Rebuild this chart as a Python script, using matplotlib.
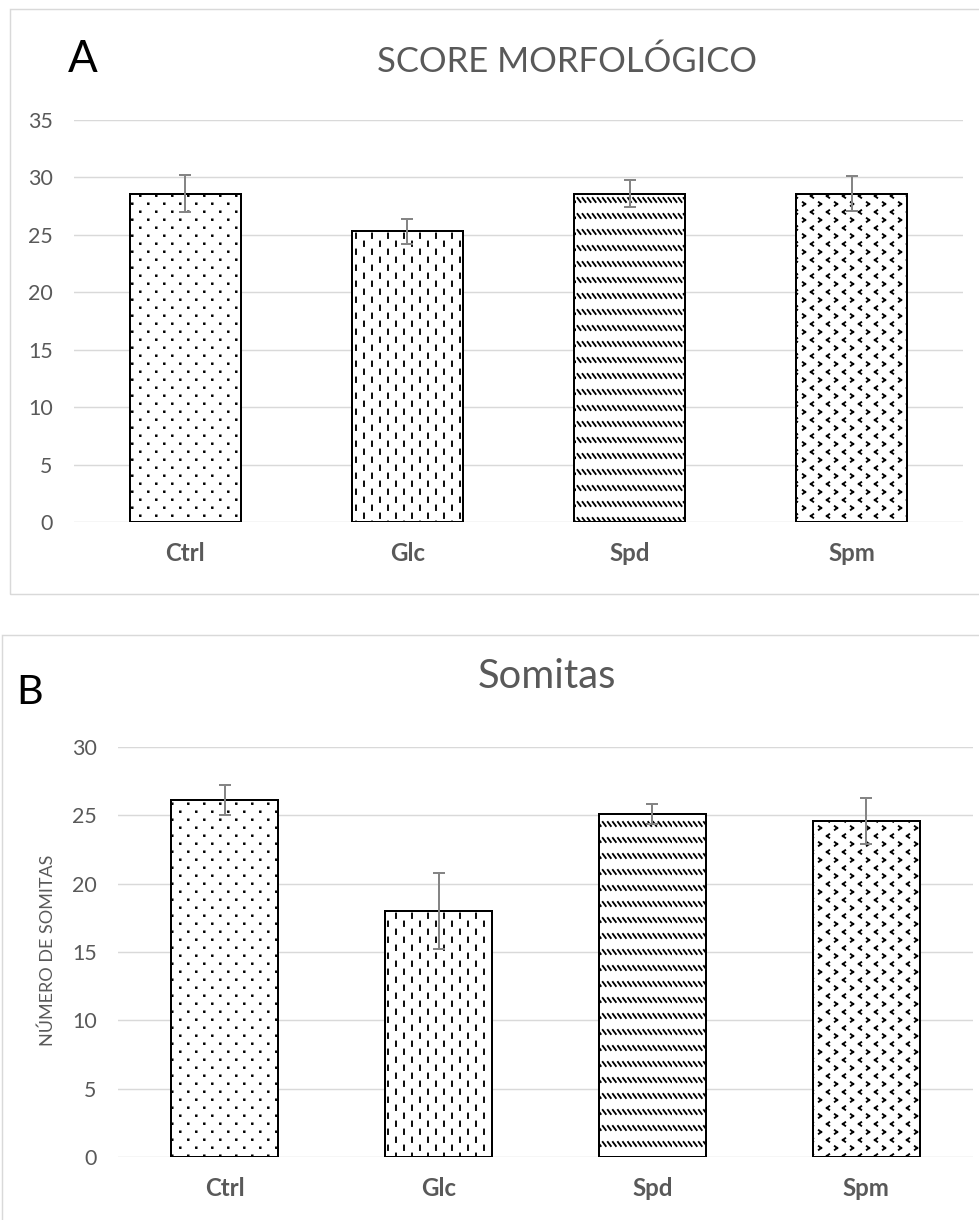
"""Score morfológico (A) y número de somitas (B) por tratamiento.

Réplica de dos gráficos de barras tipo Excel con tramas de relleno
(puntos, guiones verticales, guiones diagonales y chevrones).
"""
import numpy as np
import matplotlib
matplotlib.use('Agg')
import matplotlib.pyplot as plt
import matplotlib.hatch as mhatch
from matplotlib.path import Path
from matplotlib.patches import Rectangle

# ---------------- datos ----------------
CATEGORIAS = ['Ctrl', 'Glc', 'Spd', 'Spm']

SCORE_MEDIA = [28.6, 25.3, 28.6, 28.6]
SCORE_ERR = [1.6, 1.1, 1.2, 1.5]

SOMITAS_MEDIA = [26.1, 18.0, 25.1, 24.6]
SOMITAS_ERR = [1.1, 2.8, 0.75, 1.7]

TICKS_A = [0, 5, 10, 15, 20, 25, 30, 35]
TICKS_B = [0, 5, 10, 15, 20, 25, 30]

TRAMAS = ['.', '|', '\\', 'o']   # una trama por categoría

# ---------------- estilo ----------------
W, H, DPI = 979, 1220, 96
GRIS_TXT = '#595959'
GRIS_LIN = '#d9d9d9'
GRIS_ERR = '#858585'

plt.rcParams.update({
    'font.family': ['Lato', 'DejaVu Sans'],
    'hatch.linewidth': 1.4,
    'axes.unicode_minus': False,
})


# --- tramas tipo Excel: sustituyen a las de matplotlib para estas cadenas ---
# coordenadas en píxeles dentro de la baldosa de 96 px (y hacia arriba)
def _trama_puntos():
    segs = []
    for r in range(12):
        y = 4 + 8 * r
        for c in range(6):
            x = 4 + 16 * c + (8 if r % 2 else 0)
            segs.append([(x, y), (x + .6, y), (x + .6, y + .6), (x, y + .6)])
    return segs, True


def _trama_guiones_v():
    segs = []
    for k in range(12):
        x = 4 + 8 * k
        for j in range(6):
            y0 = 2 + 16 * j + (8 if k % 2 else 0)
            segs.append([(x, y0), (x, y0 + 4.5)])
    return segs, False


def _trama_guiones_diag():
    segs = []
    for j in range(6):
        yc = 8 + 16 * j
        for i in range(19):
            x = 1.5 + i * 96 / 19
            segs.append([(x, yc + 2), (x + 3, yc - 2)])
    return segs, False


def _trama_chevron():
    # cada brazo como segmento suelto para que no se rellene
    segs = []
    for r in range(12):
        y = 4 + 8 * r
        for c in range(6):
            x = 4 + 16 * c + (8 if r % 2 else 0)
            d = 1 if r % 2 == 0 else -1
            segs.append([(x - 1.2 * d, y + 1.8), (x + 1.2 * d, y)])
            segs.append([(x + 1.2 * d, y), (x - 1.2 * d, y - 1.8)])
    return segs, False


def _a_path(segs, cerrado):
    verts, codes = [], []
    for s in segs:
        for n, p in enumerate(s):
            verts.append((p[0] / 96, p[1] / 96))
            codes.append(Path.MOVETO if n == 0 else Path.LINETO)
        if cerrado:
            verts.append(s[0])
            codes.append(Path.CLOSEPOLY)
    return Path(np.array(verts, float), codes)


_CUSTOM = {
    '.': _a_path(*_trama_puntos()),
    '|': _a_path(*_trama_guiones_v()),
    '\\': _a_path(*_trama_guiones_diag()),
    'o': _a_path(*_trama_chevron()),
}
_orig_get_path = mhatch.get_path


def _get_path(hatchpattern, density=6):
    if hatchpattern in _CUSTOM:
        return _CUSTOM[hatchpattern]
    return _orig_get_path(hatchpattern, density)


mhatch.get_path = _get_path


def fx(px):
    return px / W


def fy(py):
    return 1 - py / H


def caja(x0, y0, x1, y1):
    """rectángulo en píxeles de la figura (y hacia abajo)"""
    return [fx(x0), fy(y1), fx(x1) - fx(x0), fy(y0) - fy(y1)]


fig = plt.figure(figsize=(W / DPI, H / DPI), dpi=DPI)

# marcos de los gráficos
for x0, y0, x1, y1 in [(10, 9, 1100, 594), (2, 635, 1100, 1400)]:
    fig.add_artist(Rectangle((fx(x0), fy(y1)), fx(x1) - fx(x0),
                             fy(y0) - fy(y1), transform=fig.transFigure,
                             facecolor='none', edgecolor=GRIS_LIN, lw=1.1))

axA = fig.add_axes(caja(74, 120, 963, 522))
axB = fig.add_axes(caja(118, 747, 973, 1157))


def barras(ax, medias, errores, ticks):
    x = np.arange(len(CATEGORIAS))
    bars = ax.bar(x, medias, width=0.5, color='white', edgecolor='black',
                  linewidth=1.5, zorder=2)
    for b, t in zip(bars, TRAMAS):
        b.set_hatch(t)
    ax.errorbar(x, medias, yerr=errores, fmt='none', ecolor=GRIS_ERR,
                elinewidth=1.5, capsize=4.5, capthick=1.5, zorder=3)
    ax.set_xlim(-0.5, len(CATEGORIAS) - 0.5)
    ax.set_ylim(ticks[0], ticks[-1])
    ax.set_yticks(ticks)
    ax.set_xticks(x)
    ax.set_xticklabels(CATEGORIAS, fontweight='bold', fontsize=18,
                       color=GRIS_TXT)
    ax.tick_params(axis='x', length=0, pad=15)
    ax.tick_params(axis='y', length=0, pad=16, labelsize=16,
                   labelcolor=GRIS_TXT)
    ax.grid(axis='y', color=GRIS_LIN, lw=1.1)
    ax.set_axisbelow(True)
    for s in ax.spines.values():
        s.set_visible(False)


barras(axA, SCORE_MEDIA, SCORE_ERR, TICKS_A)
barras(axB, SOMITAS_MEDIA, SOMITAS_ERR, TICKS_B)

fig.text(fx(567), fy(62), 'SCORE MORFOLÓGICO', ha='center', va='center',
         fontsize=26, color=GRIS_TXT)
fig.text(fx(83), fy(60), 'A', ha='center', va='center', fontsize=33,
         color='black')

fig.text(fx(547), fy(677), 'Somitas', ha='center', va='center',
         fontsize=30, color=GRIS_TXT)
fig.text(fx(30), fy(692), 'B', ha='center', va='center', fontsize=31,
         color='black',
         bbox=dict(facecolor='white', edgecolor='none', pad=6))
fig.text(fx(47.5), fy(950), 'NÚMERO DE SOMITAS', rotation=90, ha='center',
         va='center', fontsize=13.5, color=GRIS_TXT)

fig.savefig('out.png', dpi=DPI, facecolor='white')
